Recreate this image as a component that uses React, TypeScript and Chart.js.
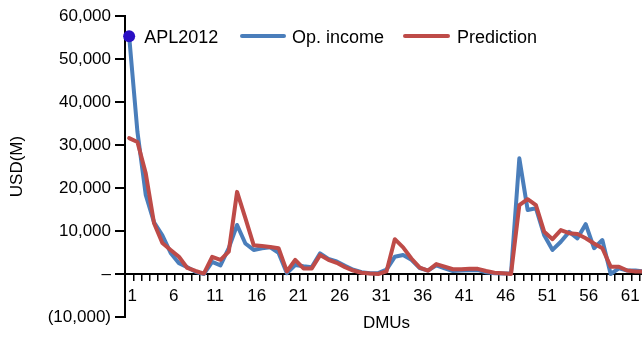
import React, { useEffect, useRef } from 'react';
import { Chart, registerables } from 'chart.js';

Chart.register(...registerables);

const dmus = [
  '1', '2', '3', '4', '5', '6', '7', '8', '9', '10',
  '11', '12', '13', '14', '15', '16', '17', '18', '19', '20',
  '21', '22', '23', '24', '25', '26', '27', '28', '29', '30',
  '31', '32', '33', '34', '35', '36', '37', '38', '39', '40',
  '41', '42', '43', '44', '45', '46', '47', '48', '49', '50',
  '51', '52', '53', '54', '55', '56', '57', '58', '59', '60',
  '61', '62', '63',
];

const shownXLabels = ['1', '6', '11', '16', '21', '26', '31', '36', '41', '46', '51', '56', '61'];

const opIncome = [
  55300, 33000, 18400, 12000, 9000, 4900, 2500, 1600, 500, 0,
  2800, 2000, 6000, 11400, 7100, 5600, 6000, 6200, 4900, 200,
  2100, 1800, 1600, 4800, 3500, 2900, 1900, 1000, 400, 200,
  200, 1000, 4000, 4400, 3300, 1400, 800, 2000, 1300, 700,
  800, 900, 900, 400, 200, 100, 200, 26900, 14900, 15300,
  9000, 5600, 7500, 9800, 8300, 11600, 6000, 7900, 0, 1300,
  800, 800, 600,
];

const prediction = [
  31600, 30700, 23400, 11800, 7200, 5600, 4000, 1400, 700, 100,
  4000, 3300, 5200, 19100, 13000, 6700, 6500, 6300, 6000, 600,
  3300, 1300, 1300, 4400, 3300, 2600, 1600, 800, 300, 100,
  0, 600, 8100, 6200, 3600, 1500, 800, 2300, 1700, 1100,
  1100, 1200, 1200, 700, 300, 200, 0, 16000, 17400, 16000,
  9800, 8100, 10200, 9500, 9300, 8300, 7100, 6000, 1700, 1700,
  800, 600, 600,
];

const aplLabel = 'APL2012';
const aplValues = [55300];

const seriesNames = ['Op. income', 'Prediction'];
const yMin = -10000;
const yMax = 60000;
const yStep = 10000;

const FONT = '"Liberation Sans", Arial, Helvetica, sans-serif';
const BLUE = '#4A7EBB';
const RED = '#BE4B48';
const DOT = '#2A0FC4';

export default function App() {
  const ref = useRef<HTMLCanvasElement>(null);

  useEffect(() => {
    if (!ref.current) return;

    const legendPlugin = {
      id: 'customLegend',
      afterDatasetsDraw(chart: any) {
        const ctx = chart.ctx;
        ctx.save();
        ctx.fillStyle = '#000';
        ctx.font = `18px ${FONT}`;
        ctx.textBaseline = 'alphabetic';
        ctx.textAlign = 'left';
        const meta = chart.getDatasetMeta(0);
        const pt = meta.data[0];
        if (pt) ctx.fillText(aplLabel, pt.x + 15, pt.y + 6.5);

        const items = [
          { name: seriesNames[0], color: BLUE, x0: 242, x1: 284, tx: 292 },
          { name: seriesNames[1], color: RED, x0: 405, x1: 448, tx: 457 },
        ];
        const y = 36;
        items.forEach((it) => {
          ctx.strokeStyle = it.color;
          ctx.lineWidth = 4;
          ctx.lineCap = 'round';
          ctx.beginPath();
          ctx.moveTo(it.x0, y);
          ctx.lineTo(it.x1, y);
          ctx.stroke();
          ctx.fillStyle = '#000';
          ctx.fillText(it.name, it.tx, y + 6.5);
        });
        ctx.restore();
      },
    };

    const chart = new Chart(ref.current, {
      type: 'line',
      data: {
        labels: dmus,
        datasets: [
          {
            label: aplLabel,
            data: aplValues,
            showLine: false,
            pointRadius: 6,
            pointBackgroundColor: DOT,
            pointBorderColor: DOT,
            pointBorderWidth: 0,
            order: 0,
          },
          {
            label: seriesNames[1],
            data: prediction,
            borderColor: RED,
            borderWidth: 4,
            pointRadius: 0,
            borderJoinStyle: 'round',
            borderCapStyle: 'round',
            tension: 0,
            order: 1,
          },
          {
            label: seriesNames[0],
            data: opIncome,
            borderColor: BLUE,
            borderWidth: 4,
            pointRadius: 0,
            borderJoinStyle: 'round',
            borderCapStyle: 'round',
            tension: 0,
            order: 2,
          },
        ],
      },
      options: {
        responsive: false,
        animation: false,
        devicePixelRatio: 1,
        layout: { padding: { left: 0, top: 16, right: 12, bottom: 20 } },
        plugins: {
          legend: { display: false },
          tooltip: { enabled: false },
        },
        scales: {
          x: {
            type: 'category',
            position: { y: 0 } as any,
            offset: true,
            grid: {
              display: true,
              drawOnChartArea: false,
              drawTicks: true,
              tickLength: 6,
              color: '#000',
              lineWidth: 1.5,
              offset: true,
            },
            border: { display: true, color: '#000', width: 2 },
            ticks: {
              autoSkip: false,
              maxRotation: 0,
              minRotation: 0,
              padding: 6,
              labelOffset: 3,
              color: '#000',
              font: { family: FONT, size: 17 },
              callback: function (this: any, _v: any, idx: number) {
                const lab = dmus[idx];
                return shownXLabels.includes(lab) ? lab : '';
              },
            },
            title: {
              display: true,
              text: 'DMUs',
              color: '#000',
              font: { family: FONT, size: 17 },
              padding: { top: 0, bottom: 0 },
            },
            afterFit(scale: any) {
              scale.height = 60;
            },
          },
          y: {
            type: 'linear',
            position: 'left',
            min: yMin,
            max: yMax,
            grid: {
              display: true,
              drawOnChartArea: false,
              drawTicks: true,
              tickLength: 10,
              color: '#000',
              lineWidth: 2,
            },
            border: { display: true, color: '#000', width: 2 },
            ticks: {
              stepSize: yStep,
              padding: 4,
              color: '#000',
              font: { family: FONT, size: 17 },
              callback: (v: any) => {
                const n = Number(v);
                if (n === 0) return '–';
                if (n < 0) return `(${Math.abs(n).toLocaleString('en-US')})`;
                return n.toLocaleString('en-US');
              },
            },
            title: {
              display: true,
              text: 'USD(M)',
              color: '#000',
              font: { family: FONT, size: 17 },
              padding: { top: 7, bottom: 0 },
            },
            afterFit(scale: any) {
              scale.width = 125;
            },
          },
        },
      },
      plugins: [legendPlugin],
    });

    return () => chart.destroy();
  }, []);

  return (
    <div
      style={{
        position: 'fixed',
        left: 0,
        top: 0,
        width: 642,
        height: 337,
        overflow: 'hidden',
        background: '#fff',
      }}
    >
      <canvas ref={ref} width={660} height={337} style={{ width: 660, height: 337, display: 'block' }} />
    </div>
  );
}
